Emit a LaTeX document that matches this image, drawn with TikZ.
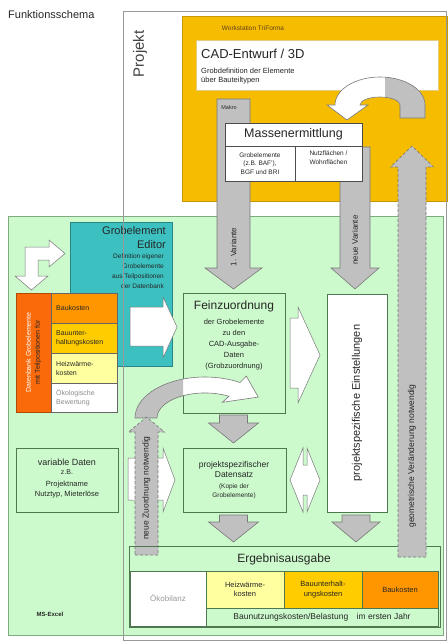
\documentclass[tikz,border=0pt]{standalone}
\usepackage{fontspec}
\setmainfont{Liberation Sans}
\usepackage{xcolor}
\usepackage{tikz}

\definecolor{gruen}{RGB}{204,250,204}
\definecolor{gruenrand}{RGB}{130,170,130}
\definecolor{dunkelgruen}{RGB}{80,120,80}
\definecolor{gelb}{RGB}{246,188,0}
\definecolor{gelbrand}{RGB}{200,150,0}
\definecolor{gold}{RGB}{255,204,0}
\definecolor{kostenorange}{RGB}{255,150,0}
\definecolor{rotorange}{RGB}{250,105,10}
\definecolor{hellgelb}{RGB}{255,255,160}
\definecolor{tuerkis}{RGB}{60,192,192}
\definecolor{grau}{RGB}{192,192,192}
\definecolor{graurand}{RGB}{120,120,120}

\newcommand{\fs}[2]{\fontsize{#1}{#2}\selectfont}
% flecha gruesa: x, y inicio, y cabeza, y punta, medio ancho, medio ancho cabeza, estilo
\newcommand{\pfeil}[7]{%
  \draw[#7] (#1-#5,#2) -- (#1+#5,#2) -- (#1+#5,#3) -- (#1+#6,#3) -- (#1,#4)
    -- (#1-#6,#3) -- (#1-#5,#3) -- cycle;}

\begin{document}
\begin{tikzpicture}[x=1pt, y=-1pt,
    feld/.style={anchor=north west, inner sep=0pt, outer sep=0pt, line width=0.7pt},
    grau pfeil/.style={fill=grau, draw=graurand, line width=0.6pt},
    weiss pfeil/.style={fill=white, draw=graurand, line width=0.5pt},
    txt/.style={text=black!85, inner sep=0pt}]
    \useasboundingbox (0,0) rectangle (447,644);

    % Titulo
    \node[txt, anchor=west, font=\fs{11}{13}] (titel) at (8,15) {Funktionsschema};

    % Campo verde
    \node[feld, fill=gruen, draw=gruenrand, minimum width=435pt, minimum height=419pt] (gruenfeld) at (8,216) {};

    % Workstation
    \node[feld, fill=gelb, draw=gelbrand, minimum width=265pt, minimum height=185pt] (workstation) at (182,16) {};
    \node[txt, font=\fs{6.5}{8}, text=brown!50!black] (wslabel) at (253,28) {Workstation TriForma};
    \node[feld, fill=white, draw=gelbrand!50, minimum width=242pt, minimum height=50pt] (cad) at (196,40) {};
    \node[txt, anchor=west, font=\fs{13}{15}] (cadtitel) at (201,54) {CAD-Entwurf / 3D};
    \node[txt, anchor=north west, align=left, font=\fs{7.5}{9}] (cadtext) at (201,68) {Grobdefinition der Elemente\\über Bauteiltypen};

    % Flecha curva arriba
    \path[save path=\bogenoben] (425,118) -- (425,105) arc[start angle=0, end angle=-180, x radius=45, y radius=28]
        -- (327,105) -- (347,120) -- (368,105) -- (360,105)
        arc[start angle=-180, end angle=0, x radius=20, y radius=8] -- (400,118) -- cycle;
    \fill[white, use path=\bogenoben];
    \begin{scope}
        \clip (385,0) rectangle (447,200);
        \fill[grau, use path=\bogenoben];
    \end{scope}
    \draw[graurand, line width=0.6pt, use path=\bogenoben];

    % Flechas grises hacia abajo
    \pfeil{233.5}{99}{268}{289}{16.5}{28.5}{grau pfeil}
    \node[txt, font=\fs{5.5}{6}] (makro) at (229,108) {Makro};
    \node[txt, rotate=90, font=\fs{8}{9}] (var1) at (233.5,247) {1. Variante};
    \pfeil{355}{147}{268}{289}{15}{24}{grau pfeil}
    \node[txt, rotate=90, font=\fs{8}{9}] (var2) at (355,240) {neue Variante};

    % Massenermittlung
    \node[feld, fill=white, draw=black!70, minimum width=137pt, minimum height=23pt] (masse) at (225,123) {};
    \node[txt, font=\fs{12.5}{14}] at (masse.center) {Massenermittlung};
    \node[feld, fill=white, draw=black!70, minimum width=70pt, minimum height=35pt] (grobel) at (225,146) {};
    \node[txt, align=center, font=\fs{6.5}{8.5}] at (grobel.center) {Grobelemente\\(z.B. BAF'),\\BGF und BRI};
    \node[feld, fill=white, draw=black!70, minimum width=67pt, minimum height=35pt] (nutzfl) at (295,146) {};
    \node[txt, anchor=north, align=center, font=\fs{6.5}{8.5}] at (328.5,151) {Nutzflächen /\\Wohnflächen};

    % Editor
    \node[feld, fill=tuerkis, draw=tuerkis!70!black, minimum width=102pt, minimum height=144pt] (editor) at (70,222) {};
    \node[txt, anchor=north east, align=right, font=\fs{11}{14}] (edtitel) at (166,226) {Grobelement\\Editor};
    \node[txt, anchor=north east, align=right, font=\fs{6.5}{9.7}] (edtext) at (164,254) {Definition eigener\\Grobelemente\\aus Teilpositionen\\der Datenbank};

    % Flecha doble en L
    \draw[weiss pfeil] (65,253.5) -- (49,240) -- (49,247) -- (25,247) -- (25,276) -- (15,276) -- (31.5,290)
        -- (48,276) -- (38,276) -- (38,260) -- (49,260) -- (49,267) -- cycle;

    % Base de datos
    \node[feld, fill=rotorange, draw=rotorange!70!black, minimum width=35pt, minimum height=119pt] (db) at (16,293) {};
    \node[txt, rotate=90, align=center, font=\fs{7}{9}] at (db.center) {{\color{white}Datenbank Grobelemente}\\mit Teilpositionen für};
    \node[feld, fill=kostenorange, draw=black!60, minimum width=66pt, minimum height=30pt] (baukosten) at (51,293) {};
    \node[feld, fill=gold, draw=black!60, minimum width=66pt, minimum height=30pt] (unterhalt) at (51,323) {};
    \node[feld, fill=hellgelb, draw=black!60, minimum width=66pt, minimum height=30pt] (heiz) at (51,353) {};
    \node[feld, fill=white, draw=black!60, minimum width=66pt, minimum height=29pt] (oeko) at (51,383) {};
    \node[txt, anchor=west, font=\fs{7}{9}] at (56,308) {Baukosten};
    \node[txt, anchor=west, align=left, font=\fs{7}{9}] at (56,338) {Bauunter-\\haltungskosten};
    \node[txt, anchor=west, align=left, font=\fs{7}{9}] at (56,368) {Heizwärme-\\kosten};
    \node[txt, anchor=west, align=left, font=\fs{7}{9}, text=black!45] at (56,397.5) {Ökologische\\Bewertung};

    % Flecha blanca del editor
    \draw[weiss pfeil] (130,307) -- (163,307) -- (163,297) -- (177,327) -- (163,358) -- (163,346) -- (130,346) -- cycle;

    % Feinzuordnung
    \node[feld, draw=dunkelgruen, minimum width=102pt, minimum height=120pt] (fein) at (183,293) {};
    \node[txt, font=\fs{12}{14}] at (234,306) {Feinzuordnung};
    \node[txt, anchor=north, align=center, font=\fs{7.5}{11}] at (234,319) {der Grobelemente\\zu den\\CAD-Ausgabe-\\Daten\\(Grobzuordnung)};

    % Flecha curva en Feinzuordnung
    \path[save path=\bogenfein] (135,418) arc[start angle=-180, end angle=-60, x radius=70, y radius=41]
        -- (246.3,376.1) -- (258.3,397.1) -- (222.3,402.3) -- (229,396.3)
        arc[start angle=-60, end angle=-180, x radius=48, y radius=25] -- cycle;
    \fill[white, use path=\bogenfein];
    \begin{scope}
        \clip (100,350) rectangle (183,440);
        \fill[grau, use path=\bogenfein];
    \end{scope}
    \draw[graurand, line width=0.6pt, use path=\bogenfein];

    % Einstellungen
    \draw[weiss pfeil] (290,318) -- (298,318) -- (298,307) -- (320,355) -- (298,403) -- (298,388) -- (290,388) -- cycle;
    \node[feld, fill=white, draw=dunkelgruen, minimum width=60pt, minimum height=218pt] (einst) at (327,294) {};
    \node[txt, rotate=90, font=\fs{11}{13}] at (einst.center) {projektspezifische Einstellungen};

    % Datensatz
    \pfeil{233.5}{415}{423}{443}{14}{25}{grau pfeil}
    \node[feld, draw=dunkelgruen, minimum width=103pt, minimum height=64pt] (datensatz) at (183,448) {};
    \node[txt, anchor=north, align=center, font=\fs{8.5}{10.5}] at (234,461) {projektspezifischer\\Datensatz};
    \node[txt, anchor=north, align=center, font=\fs{6.5}{9}] at (234,484) {(Kopie der\\Grobelemente)};
    \draw[weiss pfeil] (290,480) -- (303,448) -- (303,465) -- (307,465) -- (307,448) -- (320,480)
        -- (307,512) -- (307,495) -- (303,495) -- (303,512) -- cycle;

    % Datos variables
    \node[feld, draw=dunkelgruen, minimum width=102pt, minimum height=64pt] (vardaten) at (16,448) {};
    \node[txt, font=\fs{9}{11}] at (67,462) {variable Daten};
    \node[txt, font=\fs{7}{9}] at (67,472) {z.B.};
    \node[txt, anchor=north, align=center, font=\fs{7.5}{10}] at (67,481) {Projektname\\Nutztyp, Mieterlöse};
    \draw[weiss pfeil] (128,458) -- (163,458) -- (163,448) -- (175,480) -- (163,512) -- (163,500) -- (128,500) -- cycle;
    \pfeil{146.5}{555}{432}{417}{11.5}{18}{grau pfeil, densely dashed}
    \node[txt, rotate=90, font=\fs{8.5}{10}] at (146.5,488) {neue Zuordnung notwendig};

    % Ergebnisausgabe
    \pfeil{233.5}{515}{522}{542}{14}{25}{grau pfeil}
    \pfeil{356}{515}{522}{542}{14}{24}{grau pfeil}
    \node[feld, draw=dunkelgruen, minimum width=311pt, minimum height=81pt] (ergebnis) at (129,546) {};
    \node[txt, font=\fs{12}{14}] at (284,559) {Ergebnisausgabe};
    \node[feld, fill=white, draw=dunkelgruen, minimum width=76pt, minimum height=55pt] (oekobilanz) at (130,571) {};
    \node[feld, fill=hellgelb, draw=dunkelgruen, minimum width=78pt, minimum height=37pt] (eheiz) at (206,571) {};
    \node[feld, fill=gold, draw=dunkelgruen, minimum width=78pt, minimum height=37pt] (eunterhalt) at (284,571) {};
    \node[feld, fill=kostenorange, draw=dunkelgruen, minimum width=76pt, minimum height=37pt] (ebaukosten) at (362,571) {};
    \node[feld, draw=dunkelgruen, minimum width=232pt, minimum height=18pt] (belastung) at (206,608) {};
    \node[txt, font=\fs{8}{10}, text=black!40] at (oekobilanz.center) {Ökobilanz};
    \node[txt, align=center, font=\fs{7.5}{9.5}] at (eheiz.center) {Heizwärme-\\kosten};
    \node[txt, align=center, font=\fs{7.5}{9.5}] at (eunterhalt.center) {Bauunterhalt-\\ungskosten};
    \node[txt, font=\fs{7.5}{9.5}] at (ebaukosten.center) {Baukosten};
    \node[txt, font=\fs{8.5}{10}] at (belastung.center) {Baunutzungskosten/Belastung\quad im ersten Jahr};
    \node[txt, font=\bfseries\fs{6}{7}] (excel) at (50,614) {MS-Excel};

    % Flecha hacia arriba
    \pfeil{412}{557}{167}{146}{14}{21.5}{grau pfeil, densely dashed}
    \node[txt, rotate=90, font=\fs{8.5}{10}] at (412,456) {geometrische Veränderung notwendig};

    % Proyecto
    \draw[black!40, line width=0.6pt] (123,11) rectangle (446,640);
    \node[txt, rotate=90, font=\fs{15}{18}, text=black!75] (projekt) at (140,54) {Projekt};
\end{tikzpicture}
\end{document}
